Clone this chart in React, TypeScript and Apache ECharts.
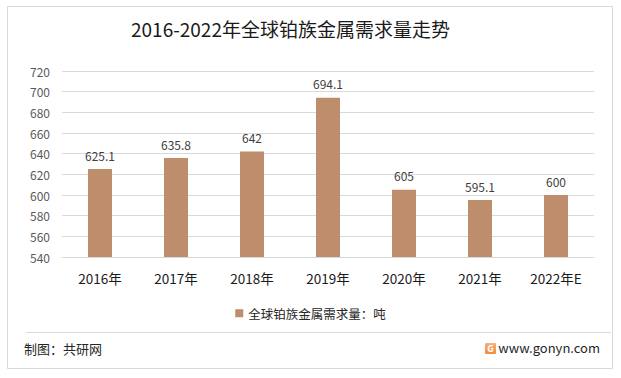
import React, { useEffect, useRef } from "react";
import * as echarts from "echarts";

const categories = ["2016年", "2017年", "2018年", "2019年", "2020年", "2021年", "2022年E"];
const demand = [625.1, 635.8, 642, 694.1, 605, 595.1, 600];
const seriesName = "全球铂族金属需求量：吨";
const titleText = "2016-2022年全球铂族金属需求量走势";
const sourceText = "制图：共研网";
const siteText = "www.gonyn.com";

const FONT = "'Noto Sans CJK SC', 'Noto Sans', sans-serif";

export default function App() {
  const ref = useRef<HTMLDivElement>(null);
  useEffect(() => {
    document.body.style.margin = "0";
    const chart = echarts.init(ref.current!, null, { renderer: "svg" });
    chart.setOption({
      animation: false,
      backgroundColor: "#ffffff",
      textStyle: { fontFamily: FONT },
      title: {
        text: titleText,
        left: 131,
        top: 19,
        padding: 0,
        textStyle: { fontSize: 19, fontWeight: "normal", color: "#1a1a1a", fontFamily: FONT },
      },
      grid: { left: 62, right: 27, top: 71, bottom: 121, containLabel: false },
      legend: {
        data: [seriesName],
        left: "center",
        top: 302,
        itemWidth: 8,
        itemHeight: 8,
        icon: "rect",
        itemGap: 6,
        textStyle: { fontSize: 12.5, color: "#262626", fontFamily: FONT },
      },
      xAxis: {
        type: "category",
        data: categories,
        axisLine: { show: true, lineStyle: { color: "#d9d9d9" } },
        axisTick: { show: false },
        axisLabel: { fontSize: 13.5, color: "#1a1a1a", margin: 14, fontFamily: FONT },
      },
      yAxis: {
        type: "value",
        min: 540,
        max: 720,
        interval: 20,
        axisLine: { show: false },
        axisTick: { show: false },
        axisLabel: { fontSize: 12, color: "#595959", margin: 12, fontFamily: FONT },
        splitLine: { lineStyle: { color: "#d9d9d9" } },
      },
      series: [
        {
          name: seriesName,
          type: "bar",
          data: demand,
          barWidth: 24,
          itemStyle: { color: "#BE8D6B" },
          label: {
            show: true,
            position: "top",
            distance: 8,
            fontSize: 12,
            color: "#404040",
            fontFamily: FONT,
          },
        },
      ],
      graphic: [
        {
          type: "rect",
          shape: { x: 7.5, y: 6.5, width: 605, height: 362 },
          style: { fill: "none", stroke: "#d9d9d9", lineWidth: 1 },
          silent: true,
        },
        {
          type: "line",
          shape: { x1: 26, y1: 332.5, x2: 611, y2: 332.5 },
          style: { stroke: "#d9d9d9", lineWidth: 1 },
        },
        {
          type: "text",
          x: 24,
          y: 348,
          style: { text: sourceText, fontSize: 13, fill: "#262626", fontFamily: FONT, verticalAlign: "middle" },
        },
        {
          type: "rect",
          shape: { x: 485, y: 343, width: 11, height: 11, r: 1 },
          style: {
            fill: new echarts.graphic.LinearGradient(0, 0, 0, 1, [
              { offset: 0, color: "#F4B183" },
              { offset: 1, color: "#F08A3C" },
            ]),
          },
        },
        {
          type: "text",
          x: 490.5,
          y: 348.5,
          style: { text: "G", fontSize: 9, fontWeight: "bold", fill: "#ffffff", fontFamily: FONT, align: "center", verticalAlign: "middle" },
        },
        {
          type: "text",
          x: 600,
          y: 347,
          style: { text: siteText, fontSize: 13, fill: "#262626", fontFamily: FONT, align: "right", verticalAlign: "middle" },
        },
      ],
    });
    return () => chart.dispose();
  }, []);
  return <div ref={ref} style={{ position: "absolute", left: 0, top: 0, width: 621, height: 378 }} />;
}
